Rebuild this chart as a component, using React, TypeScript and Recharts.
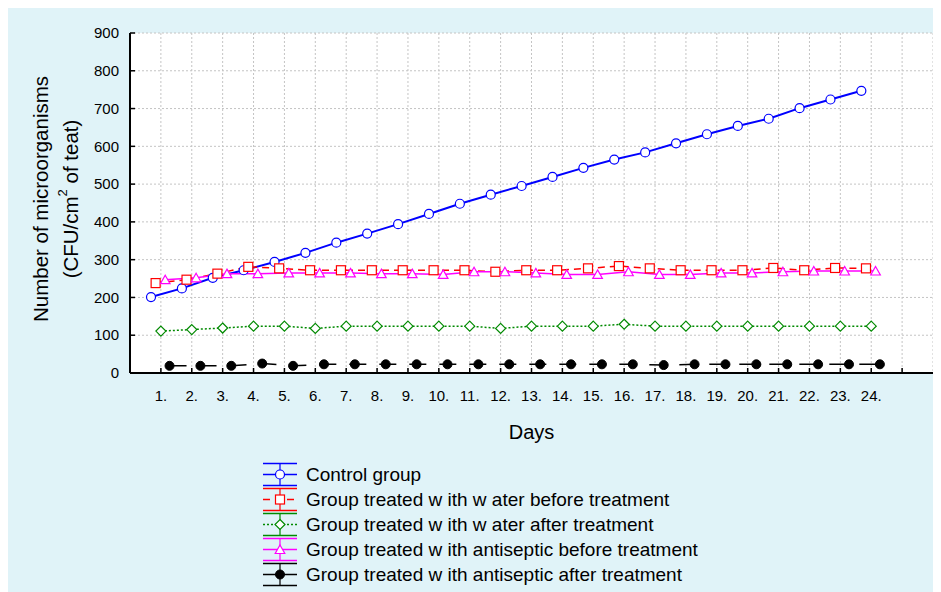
import React from 'react';
import { LineChart, Line, XAxis, YAxis, CartesianGrid, Legend } from 'recharts';

const days = [1, 2, 3, 4, 5, 6, 7, 8, 9, 10, 11, 12, 13, 14, 15, 16, 17, 18, 19, 20, 21, 22, 23, 24];
const xTicks = [1, 2, 3, 4, 5, 6, 7, 8, 9, 10, 11, 12, 13, 14, 15, 16, 17, 18, 19, 20, 21, 22, 23, 24, 25];
const yTicks = [0, 100, 200, 300, 400, 500, 600, 700, 800, 900];

const control = [201, 224, 252, 272, 294, 318, 345, 369, 394, 421, 448, 472, 495, 519, 543, 565, 584, 608, 632, 654, 673, 701, 724, 747];
const waterBefore = [238, 247, 263, 281, 277, 272, 272, 272, 272, 272, 272, 268, 272, 272, 277, 283, 277, 272, 272, 272, 278, 272, 278, 277];
const waterAfter = [111, 115, 119, 124, 124, 118, 124, 124, 124, 124, 124, 118, 124, 124, 124, 129, 124, 124, 124, 124, 124, 124, 124, 124];
const antisepticBefore = [247, 252, 263, 263, 265, 265, 265, 263, 263, 261, 268, 268, 265, 261, 261, 268, 261, 261, 265, 265, 268, 270, 270, 270];
const antisepticAfter = [19, 19, 19, 25, 19, 23, 23, 23, 23, 23, 23, 23, 23, 23, 23, 23, 21, 23, 23, 23, 23, 23, 23, 23];

const FONT = '"Liberation Sans", Arial, sans-serif';

// Statistica draws each group slightly shifted around the day tick
const series = [
  { name: 'Control group', values: control, shift: -0.32, color: '#0000ff', dash: undefined, width: 2, marker: 'circle' },
  { name: 'Group treated w ith w ater before treatment', values: waterBefore, shift: -0.17, color: '#ff0000', dash: '7 5', width: 1.5, marker: 'square' },
  { name: 'Group treated w ith w ater after treatment', values: waterAfter, shift: 0, color: '#008a00', dash: '2 2', width: 1.5, marker: 'diamond' },
  { name: 'Group treated w ith antiseptic before treatment', values: antisepticBefore, shift: 0.14, color: '#ff00ff', dash: undefined, width: 1.5, marker: 'triangle' },
  { name: 'Group treated w ith antiseptic after treatment', values: antisepticAfter, shift: 0.28, color: '#000000', dash: '17 13', width: 1.5, marker: 'dot' },
];

const drawMarker = (kind: string, color: string, cx: number, cy: number, key?: any) => {
  switch (kind) {
    case 'square':
      return <rect key={key} x={cx - 4.5} y={cy - 4.5} width={9} height={9} fill="#fff" stroke={color} strokeWidth={1.2} />;
    case 'diamond':
      return <polygon key={key} points={`${cx},${cy - 5} ${cx + 5},${cy} ${cx},${cy + 5} ${cx - 5},${cy}`} fill="#fff" stroke={color} strokeWidth={1.2} />;
    case 'triangle':
      return <polygon key={key} points={`${cx},${cy - 4.5} ${cx + 4.8},${cy + 4} ${cx - 4.8},${cy + 4}`} fill="#fff" stroke={color} strokeWidth={1.2} />;
    case 'dot':
      return <circle key={key} cx={cx} cy={cy} r={4.5} fill={color} stroke={color} strokeWidth={1} />;
    default:
      return <circle key={key} cx={cx} cy={cy} r={4.5} fill="#fff" stroke={color} strokeWidth={1.2} />;
  }
};

const BottomTick = (props: any) => {
  const { x, y, payload } = props;
  return (
    <g>
      <line x1={x} x2={x} y1={y} y2={y - 5} stroke="#000" strokeWidth={1.5} />
      {payload.value <= 24 && (
        <text x={x} y={y + 28} textAnchor="middle" fontSize={15} fontFamily={FONT} fill="#000">
          {payload.value}.
        </text>
      )}
    </g>
  );
};

const TopTick = (props: any) => {
  const { x, y } = props;
  return <line x1={x} x2={x} y1={y} y2={y + 5} stroke="#000" strokeWidth={1.5} />;
};

const LeftTick = (props: any) => {
  const { x, y, payload } = props;
  return (
    <g>
      <line x1={x} x2={x + 5} y1={y} y2={y} stroke="#000" strokeWidth={1.5} />
      <text x={x - 11} y={y} dy="0.35em" textAnchor="end" fontSize={15} fontFamily={FONT} fill="#000">
        {payload.value}
      </text>
    </g>
  );
};

const RightTick = (props: any) => {
  const { x, y } = props;
  return <line x1={x} x2={x - 5} y1={y} y2={y} stroke="#000" strokeWidth={1.5} />;
};

const YLabel = (props: any) => {
  const cy = props.viewBox ? props.viewBox.y + props.viewBox.height / 2 - 4 : 190;
  return (
    <g fontFamily={FONT} fontSize={20.5} fill="#000">
      <text x={32} y={cy} textAnchor="middle" dominantBaseline="central" transform={`rotate(-90 32 ${cy})`}>
        Number of microorganisms
      </text>
      <text x={62} y={cy} textAnchor="middle" dominantBaseline="central" transform={`rotate(-90 62 ${cy})`}>
        (CFU/cm<tspan fontSize={13} dy={-8}>2</tspan>
        <tspan dy={8}> of teat)</tspan>
      </text>
    </g>
  );
};

const XLabel = (props: any) => {
  const vb = props.viewBox || { x: 122, y: 365, width: 803 };
  return (
    <text x={vb.x + vb.width / 2} y={vb.y + 66} textAnchor="middle" fontSize={20} fontFamily={FONT} fill="#000">
      Days
    </text>
  );
};

const LegendBox = () => (
  <div style={{ fontFamily: FONT, fontSize: 19, color: '#000' }}>
    {series.map((s) => (
      <div key={s.name} style={{ display: 'flex', alignItems: 'center', height: 25 }}>
        <svg width={36} height={25} style={{ marginRight: 8, overflow: 'visible' }}>
          <line x1={1} x2={35} y1={1.5} y2={1.5} stroke={s.color} strokeWidth={1.5} />
          <line x1={1} x2={35} y1={23.5} y2={23.5} stroke={s.color} strokeWidth={1.5} />
          <line x1={18} x2={18} y1={1.5} y2={23.5} stroke={s.color} strokeWidth={1.2} />
          <line x1={1} x2={35} y1={12.5} y2={12.5} stroke={s.color} strokeWidth={1.5} strokeDasharray={s.dash === '17 13' ? undefined : s.dash} />
          {drawMarker(s.marker, s.color, 18, 12.5)}
        </svg>
        <span style={{ whiteSpace: 'nowrap' }}>{s.name}</span>
      </div>
    ))}
  </div>
);

export default function App() {
  return (
    <div style={{ width: 933, height: 584, background: '#e0f3f8', position: 'relative' }}>
      <LineChart width={933} height={584} margin={{ top: 25, right: 8, bottom: 149, left: 0 }}>
        <CartesianGrid fill="#ffffff" stroke="#c4c4c4" strokeDasharray="2 2" />
        <XAxis
          dataKey="x"
          type="number"
          domain={[0, 26]}
          ticks={xTicks}
          interval={0}
          height={70}
          tickSize={0}
          tickMargin={0}
          tickLine={false}
          axisLine={{ stroke: '#000', strokeWidth: 2 }}
          tick={<BottomTick />}
          label={{ content: <XLabel /> }}
        />
        <XAxis
          xAxisId="top"
          orientation="top"
          type="number"
          domain={[0, 26]}
          ticks={xTicks}
          interval={0}
          height={0}
          tickSize={0}
          tickMargin={0}
          tickLine={false}
          axisLine={{ stroke: '#000', strokeWidth: 2 }}
          tick={<TopTick />}
        />
        <YAxis
          type="number"
          domain={[0, 900]}
          ticks={yTicks}
          interval={0}
          width={122}
          tickSize={0}
          tickMargin={0}
          tickLine={false}
          axisLine={{ stroke: '#000', strokeWidth: 2 }}
          tick={<LeftTick />}
          label={{ content: <YLabel /> }}
        />
        <YAxis
          yAxisId="right"
          orientation="right"
          type="number"
          domain={[0, 900]}
          ticks={yTicks}
          interval={0}
          width={0}
          tickSize={0}
          tickMargin={0}
          tickLine={false}
          axisLine={{ stroke: '#000', strokeWidth: 2 }}
          tick={<RightTick />}
        />
        {series.map((s) => (
          <Line
            key={s.name}
            name={s.name}
            data={s.values.map((v, i) => ({ x: days[i] + s.shift, y: v }))}
            dataKey="y"
            type="linear"
            stroke={s.color}
            strokeWidth={s.width}
            strokeDasharray={s.dash}
            isAnimationActive={false}
            dot={(p: any) => drawMarker(s.marker, s.color, p.cx, p.cy, `${s.name}-${p.index}`)}
            activeDot={false}
          />
        ))}
        <Legend
          layout="horizontal"
          verticalAlign="middle"
          align="center"
          content={() => <LegendBox />}
          wrapperStyle={{ left: 254, top: 454, width: 'auto', height: 'auto' }}
        />
      </LineChart>
    </div>
  );
}
